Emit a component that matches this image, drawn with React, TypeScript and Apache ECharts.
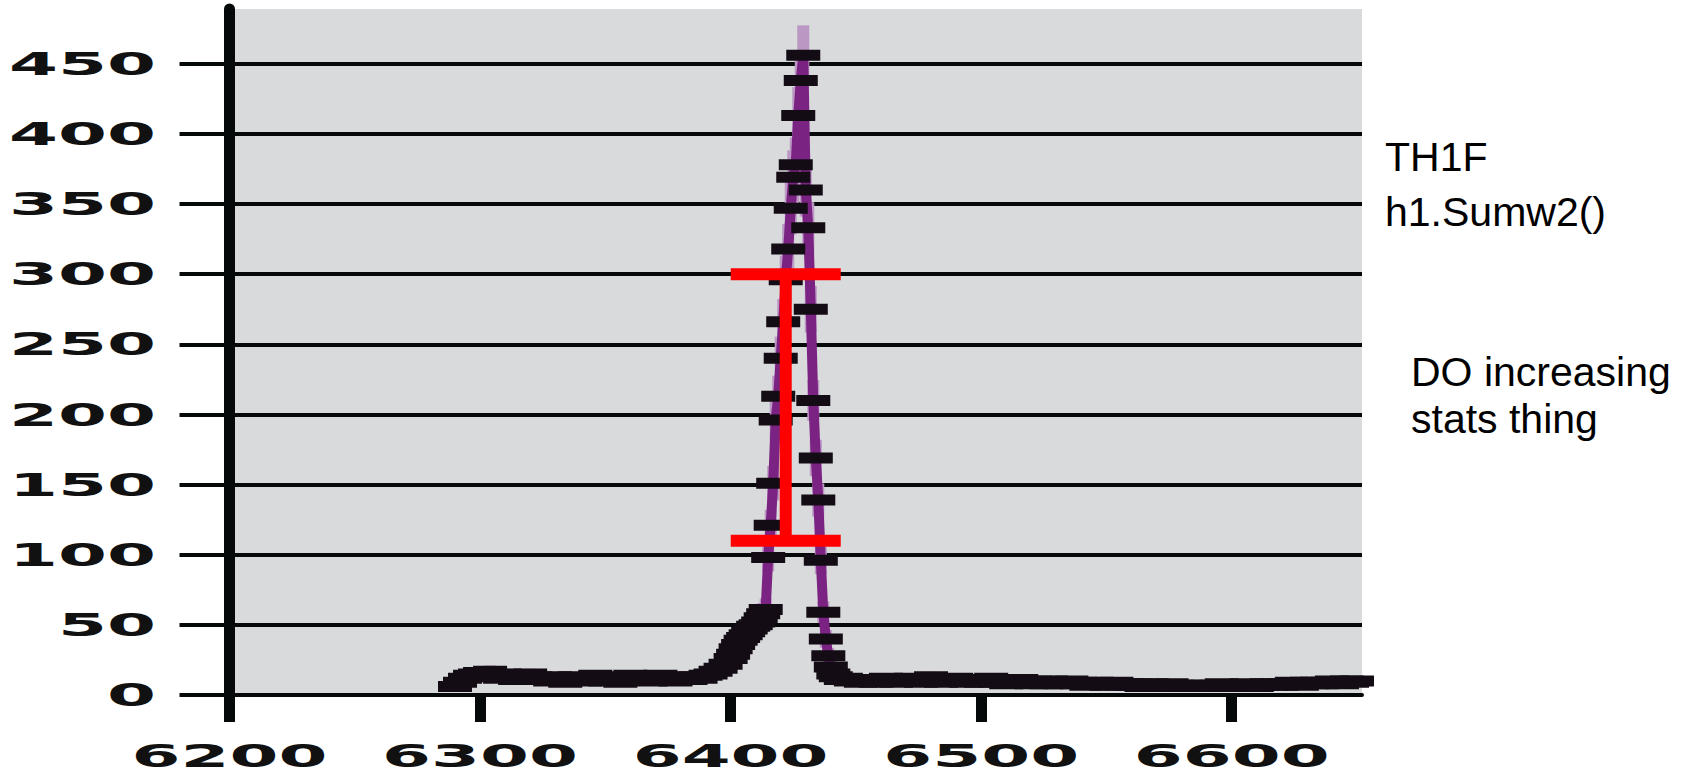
import React, { useEffect, useRef } from "react";
import * as echarts from "echarts";

// ---- axis ticks ----
const xTicks = [6200, 6300, 6400, 6500, 6600];
const yTicks = [0, 50, 100, 150, 200, 250, 300, 350, 400, 450];
const xMin = 6200;
const xMax = 6652;
const yMin = 0;
const yMax = 489;

// ---- histogram contents (bin centres follow start + step * index) ----
const bgLeftStart = 6290;
const bgLeftStep = 2;
const bgLeftCounts = [
  6, 9, 12, 14, 15, 16, 13, 17, 14, 12, 15, 13, 11, 14, 12, 15, 13, 11, 12, 10,
  13, 12, 9, 11, 13, 12, 10, 11, 14, 12, 10, 13, 11, 9, 12, 14, 11, 12, 13, 10,
  12, 14, 11, 12, 10, 13, 12, 11, 13, 12, 14, 15, 17, 19, 22,
];

const peakStart = 6400;
const peakStep = 1;
const peakCounts = [
  26, 29, 33, 36, 39, 41, 43, 45, 47, 49, 50, 52, 55, 58,
  61, 98, 121, 151, 196, 213, 240, 266, 296, 318, 347, 369, 378, 413, 438, 456,
  360, 333, 275, 210, 169, 139, 96, 59, 40, 28, 20, 15,
];

const bgRightStart = 6442;
const bgRightStep = 2;
const bgRightCounts = [
  13, 11, 12, 10, 11, 9, 10, 11, 9, 10, 12, 10, 9, 11, 10, 12, 10, 9, 11, 13,
  10, 9, 11, 10, 12, 10, 9, 10, 11, 9, 10, 12, 9, 10, 8, 10, 9, 11, 9, 8,
  10, 9, 8, 10, 9, 8, 9, 10, 8, 9, 7, 8, 9, 8, 7, 8, 9, 7, 8, 7,
  8, 6, 7, 8, 7, 6, 7, 8, 7, 6, 7, 6, 7, 6, 7, 6, 7, 8, 6, 7,
  6, 7, 8, 7, 6, 7, 8, 7, 8, 7, 8, 9, 8, 7, 9, 8, 9, 8, 9, 10,
  9, 8, 10, 9, 10,
];

// ---- highlighted red error bar ----
const redBarX = 6422;
const redBarLow = 110;
const redBarHigh = 300;

// ---- annotation texts ----
const noteLines1 = ["TH1F", "h1.Sumw2()"];
const noteLines2 = ["DO increasing", "stats thing"];

function buildPoints(): number[][] {
  const pts: number[][] = [];
  bgLeftCounts.forEach((c, i) => pts.push([bgLeftStart + bgLeftStep * i, c]));
  peakCounts.forEach((c, i) => pts.push([peakStart + peakStep * i, c]));
  bgRightCounts.forEach((c, i) => pts.push([bgRightStart + bgRightStep * i, c]));
  return pts;
}

export default function App() {
  const ref = useRef<HTMLDivElement>(null);

  useEffect(() => {
    if (!ref.current) return;
    const chart = echarts.init(ref.current, null, { renderer: "svg" });
    const pts = buildPoints();
    // Sumw2 -> per-bin error sqrt(N)
    const errData = pts.map(([x, y]) => [x, y, Math.sqrt(y)]);
    const black = "#060909";

    const option: any = {
      animation: false,
      backgroundColor: "#ffffff",
      grid: {
        left: 229.5,
        right: 335,
        top: 9,
        bottom: 82,
        show: true,
        backgroundColor: "#d9dadc",
        borderWidth: 0,
        containLabel: false,
      },
      xAxis: {
        type: "value",
        min: xMin,
        max: xMax,
        axisLine: { show: true, onZero: false, lineStyle: { color: black, width: 4 } },
        axisTick: {
          show: true,
          length: 27,
          customValues: xTicks,
          lineStyle: { color: black, width: 11 },
        },
        axisLabel: { show: false, customValues: xTicks },
        splitLine: { show: false },
      },
      yAxis: {
        type: "value",
        min: yMin,
        max: yMax,
        axisLine: { show: true, lineStyle: { color: black, width: 11 } },
        axisTick: {
          show: true,
          length: 50,
          customValues: yTicks,
          lineStyle: { color: black, width: 4 },
        },
        axisLabel: { show: false, customValues: yTicks },
        splitLine: { show: true, lineStyle: { color: black, width: 4 } },
      },
      series: [
        {
          type: "custom",
          name: "errors",
          z: 2,
          clip: true,
          data: errData,
          renderItem: (params: any, api: any) => {
            const x = api.value(0);
            const y = api.value(1);
            const e = api.value(2);
            const top = api.coord([x, y + e]);
            const bot = api.coord([x, y - e]);
            return {
              type: "rect",
              shape: { x: top[0] - 6, y: top[1], width: 12, height: bot[1] - top[1] },
              style: { fill: "#bb97c4" },
            };
          },
        },
        {
          type: "line",
          name: "h1",
          z: 3,
          data: pts,
          showSymbol: true,
          showAllSymbol: true,
          symbol: "rect",
          symbolSize: [34, 11],
          itemStyle: { color: "#140c14" },
          lineStyle: { color: "#7b2382", width: 10 },
        },
        {
          type: "custom",
          name: "redbar",
          z: 10,
          data: [[redBarX, redBarLow, redBarHigh]],
          renderItem: (params: any, api: any) => {
            const x = api.value(0);
            const lo = api.coord([x, api.value(1)]);
            const hi = api.coord([x, api.value(2)]);
            const capHalf = 55;
            const w = 12;
            return {
              type: "group",
              children: [
                {
                  type: "rect",
                  shape: { x: hi[0] - w / 2, y: hi[1], width: w, height: lo[1] - hi[1] },
                  style: { fill: "#ff0000" },
                },
                {
                  type: "rect",
                  shape: { x: hi[0] - capHalf, y: hi[1] - w / 2, width: capHalf * 2, height: w },
                  style: { fill: "#ff0000" },
                },
                {
                  type: "rect",
                  shape: { x: lo[0] - capHalf, y: lo[1] - w / 2, width: capHalf * 2, height: w },
                  style: { fill: "#ff0000" },
                },
              ],
            };
          },
        },
      ],
    };

    chart.setOption(option);

    const labelStyle = {
      fill: "#111111",
      fontFamily: "DejaVu Sans",
      fontWeight: "bold",
      fontSize: 32,
      lineHeight: 26,
      verticalAlign: "middle",
    };
    const gfx: any[] = [];
    yTicks.forEach((v) => {
      const p = chart.convertToPixel({ gridIndex: 0 }, [xMin, v]) as number[];
      gfx.push({
        type: "text",
        x: 156,
        y: p[1],
        scaleX: 2.2,
        style: { ...labelStyle, text: String(v), align: "right" },
      });
    });
    const xLabelY = chart.convertToPixel({ gridIndex: 0 }, [xMin, yMin]) as number[];
    xTicks.forEach((v) => {
      const p = chart.convertToPixel({ gridIndex: 0 }, [v, yMin]) as number[];
      gfx.push({
        type: "text",
        x: p[0],
        y: xLabelY[1] + 61,
        scaleX: 2.2,
        style: { ...labelStyle, text: String(v), align: "center" },
      });
    });

    const noteStyle = {
      fill: "#000000",
      fontFamily: "Liberation Sans",
      fontSize: 41,
      verticalAlign: "middle",
      align: "left",
    };
    gfx.push({
      type: "text",
      x: 1385,
      y: 184.5,
      style: { ...noteStyle, lineHeight: 55, text: noteLines1.join("\n") },
    });
    gfx.push({
      type: "text",
      x: 1411,
      y: 395.5,
      style: { ...noteStyle, lineHeight: 47, text: noteLines2.join("\n") },
    });

    chart.setOption({ graphic: gfx });

    return () => chart.dispose();
  }, []);

  return (
    <div
      ref={ref}
      style={{ position: "fixed", left: 0, top: 0, width: 1697, height: 777 }}
    />
  );
}
